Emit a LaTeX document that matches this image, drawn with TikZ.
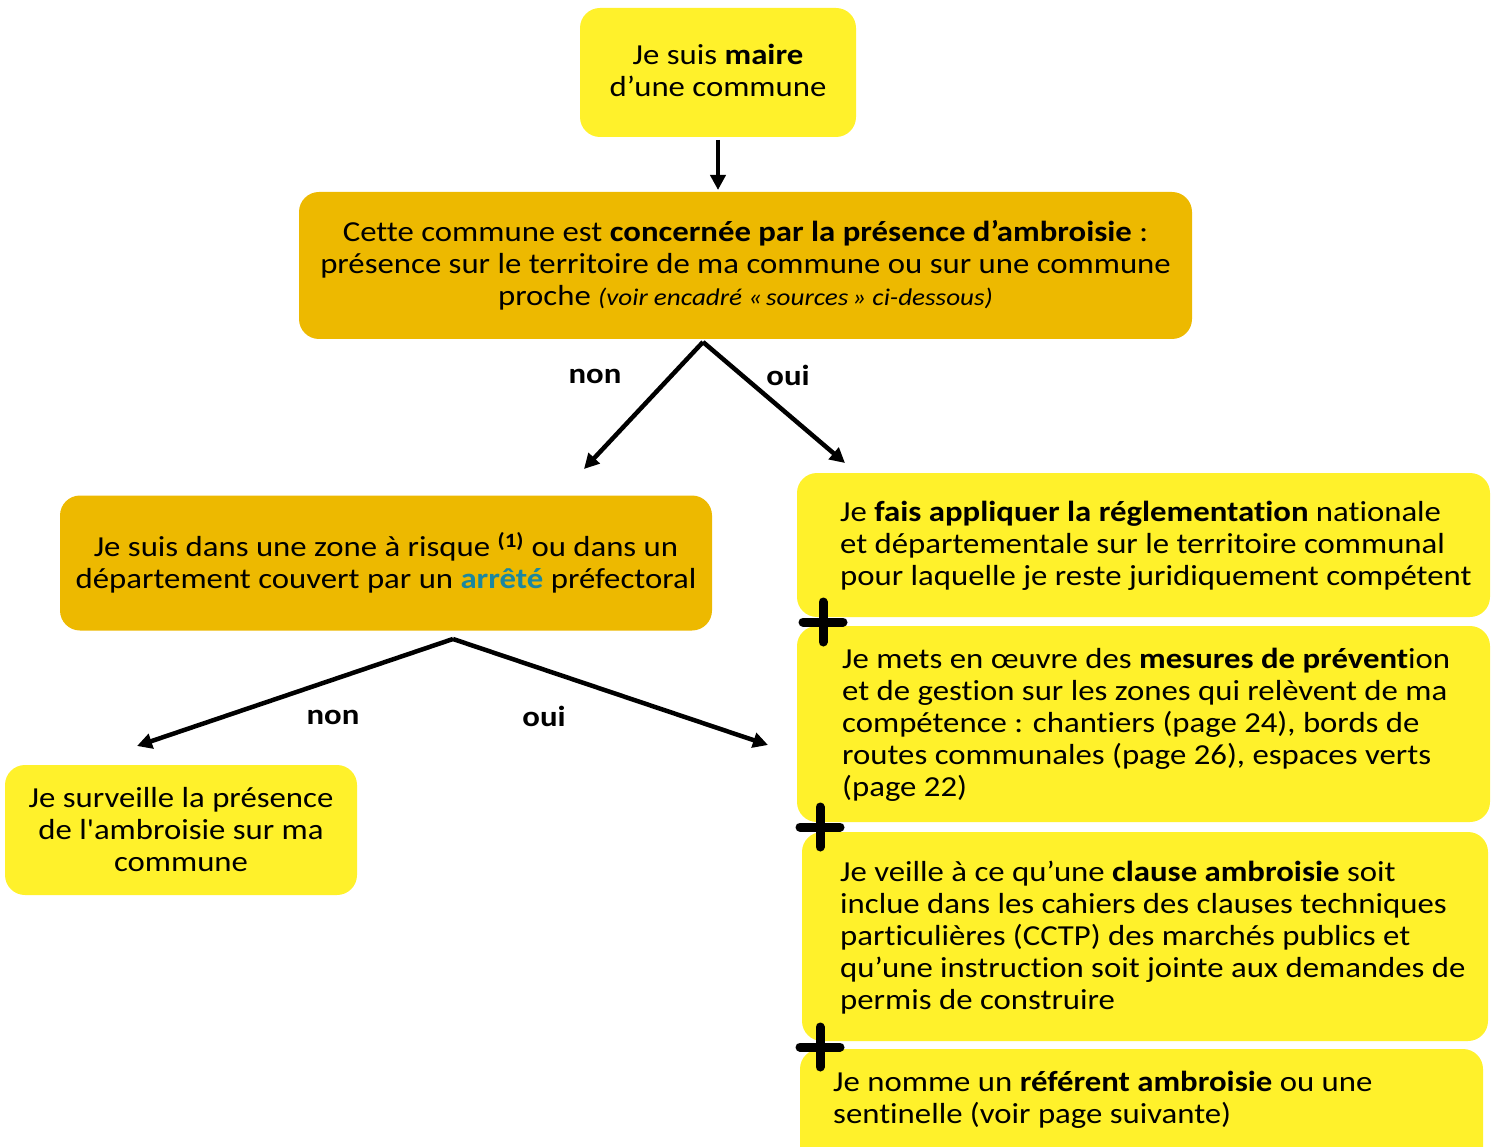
\documentclass[tikz,border=0pt]{standalone}
\usepackage{fontspec}
\setmainfont[Ligatures={TeXOff,CommonOff}, FakeStretch=1.13]{Carlito}
\usetikzlibrary{arrows.meta}
\definecolor{ylight}{HTML}{FFF12B}
\definecolor{ydark}{HTML}{EDB900}
\definecolor{arretecol}{HTML}{1B87A0}
\newcommand{\bodyfnt}{\fontsize{29}{32}\selectfont}
\begin{document}
\begin{tikzpicture}[x=1pt,y=-1pt,
  box/.style={rounded corners=20pt, inner sep=0pt, font=\bodyfnt, align=center},
  lightbox/.style={box, fill=ylight},
  darkbox/.style={box, fill=ydark},
  txt/.style={inner sep=0pt, font=\bodyfnt, align=left, anchor=west},
  lbl/.style={inner sep=0pt, font=\bodyfnt\bfseries},
  arr/.style={line width=4.5pt, -{Triangle[length=15pt,width=15pt]}},
  plusline/.style={line width=9pt, line cap=round}
]
\useasboundingbox (0,0) rectangle (1494,1147);

\node[lightbox, minimum width=276, minimum height=129] (maire) at (718,72.5) {};
\node[inner sep=0pt, font=\bodyfnt, align=center] (mairetxt) at (718,70.5)
  {Je suis \textbf{maire}\\d’une commune};

\node[darkbox, minimum width=893, minimum height=147] (concernee) at (745.5,265.5)
  {Cette commune est \textbf{concernée par la présence d’ambroisie} :\\
   présence sur le territoire de ma commune ou sur une commune\\
   proche {\fontsize{24}{28}\selectfont\itshape (voir encadré «\,sources\,» ci-dessous)}};

\node[darkbox, minimum width=652, minimum height=135] (zone) at (386,563)
  {Je suis dans une zone à risque \textsuperscript{\textbf{(1)}} ou dans un\\
   département couvert par un \textbf{\color{arretecol}arrêté} préfectoral};

\node[lightbox, minimum width=352, minimum height=130] (surveille) at (181,830)
  {Je surveille la présence\\de l'ambroisie sur ma\\commune};

% right column boxes
\path[fill=ylight, rounded corners=20pt] (797,473) rectangle (1490,617);
\node[txt] (ta) at (840,546)
  {Je \textbf{fais appliquer la réglementation} nationale\\
   et départementale sur le territoire communal\\
   pour laquelle je reste juridiquement compétent};

\path[fill=ylight, rounded corners=20pt] (797,626) rectangle (1490,822);
\node[txt] (tb) at (842,725)
  {Je mets en œuvre des \textbf{mesures de prévent}ion\\
   et de gestion sur les zones qui relèvent de ma\\
   compétence : chantiers (page 24), bords de\\
   routes communales (page 26), espaces verts\\
   (page 22)};

\path[fill=ylight, rounded corners=20pt] (802,832) rectangle (1488,1041);
\node[txt] (tc) at (840,938)
  {Je veille à ce qu’une \textbf{clause ambroisie} soit\\
   inclue dans les cahiers des clauses techniques\\
   particulières (CCTP) des marchés publics et\\
   qu’une instruction soit jointe aux demandes de\\
   permis de construire};

\path[fill=ylight, rounded corners=20pt] (800,1049) rectangle (1483,1175);
\node[txt] (td) at (833,1100)
  {Je nomme un \textbf{référent ambroisie} ou une\\
   sentinelle (voir page suivante)};

% plus signs
\foreach \cx/\cy in {823/622, 820/827, 820/1047}{
  \draw[plusline] (\cx-20,\cy) -- (\cx+20,\cy);
  \draw[plusline] (\cx,\cy-20) -- (\cx,\cy+20);
}

% connectors
\coordinate (m1) at (718,140);
\coordinate (m2) at (718,190);
\draw[arr] (m1) -- (m2);

\coordinate (apex1) at (703,342);
\coordinate (non1) at (584,469);
\coordinate (oui1) at (845,463);
\draw[arr] (apex1) -- (non1);
\draw[arr] (apex1) -- (oui1);
\node[lbl] (lnon1) at (595,376) {non};
\node[lbl] (loui1) at (788,375) {oui};

\coordinate (apex2) at (453,639);
\coordinate (non2) at (137,746);
\coordinate (oui2) at (768,745);
\draw[arr] (apex2) -- (non2);
\draw[arr] (apex2) -- (oui2);
\node[lbl] (lnon2) at (333,717) {non};
\node[lbl] (loui2) at (544,716) {oui};
\end{tikzpicture}
\end{document}
